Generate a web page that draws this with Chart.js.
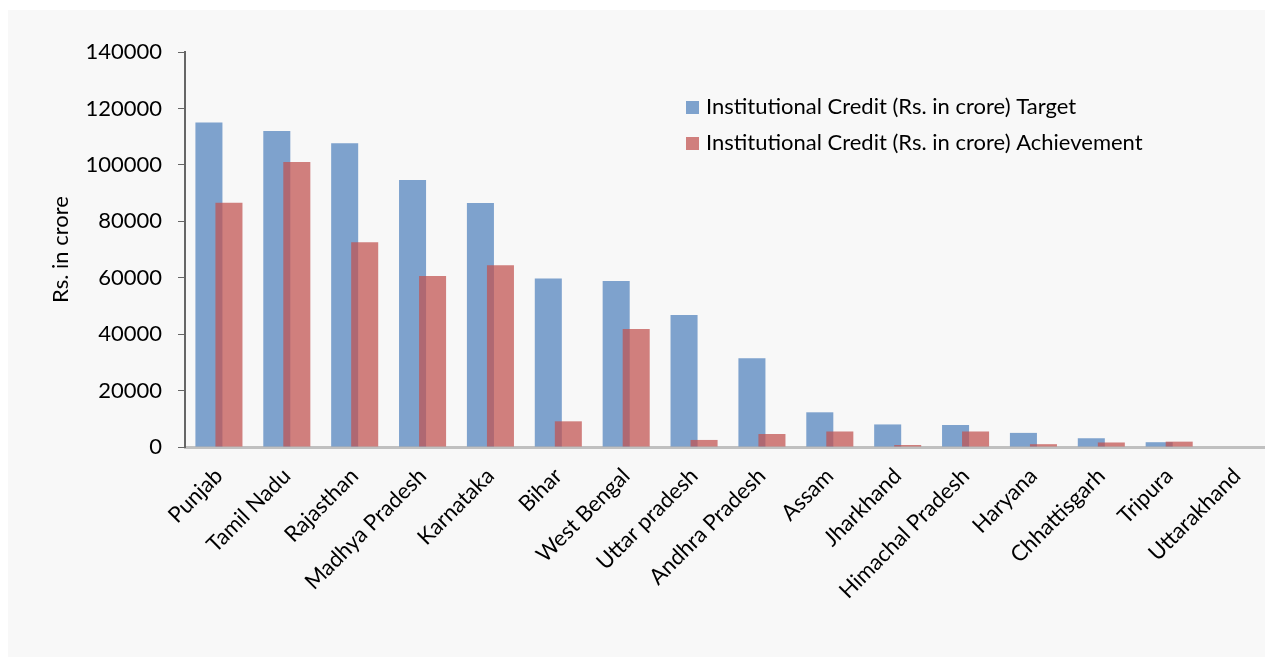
<!DOCTYPE html>
<html>
<head>
<meta charset="utf-8">
<script src="https://cdn.jsdelivr.net/npm/chart.js@4"></script>
<style>
  html,body{margin:0;padding:0;background:#fff;overflow:hidden;width:1265px;height:662px}
  #panel{position:absolute;left:8px;top:10px;width:1263px;height:647px;background:#f8f8f8}
  #chart{position:absolute;left:0;top:0}
</style>
</head>
<body>
<div id="panel"><canvas id="chart" width="1263" height="647"></canvas></div>
<script>
const states = ['Punjab','Tamil Nadu','Rajasthan','Madhya Pradesh','Karnataka','Bihar','West Bengal',
  'Uttar pradesh','Andhra Pradesh','Assam','Jharkhand','Himachal Pradesh','Haryana','Chhattisgarh',
  'Tripura','Uttarakhand'];
const target      = [115000,112000,107700,94600,86500,59700,58800,46800,31500,12300,8000,7800,5000,3100,1700,0];
const achievement = [86600,101000,72600,60600,64400,9100,41800,2500,4600,5500,700,5500,1000,1600,1900,0];
const yTicks = [0,20000,40000,60000,80000,100000,120000,140000];

const FONT = 'Lato, "Open Sans", sans-serif';

// draw datasets in index order so the achievement bars sit on top of the target bars
const drawInOrder = {
  id:'drawInOrder',
  beforeDatasetsDraw(chart){
    chart.data.datasets.forEach((d,i)=>chart.getDatasetMeta(i).controller.draw());
    return false;
  }
};

// legend inside the plot, top right
const innerLegend = {
  id:'innerLegend',
  afterDraw(chart){
    const ctx = chart.ctx;
    ctx.save();
    ctx.font = '22px ' + FONT;
    ctx.textBaseline = 'middle';
    chart.data.datasets.forEach((d,i)=>{
      const y = 97 + i*36;
      ctx.fillStyle = d.backgroundColor;
      ctx.fillRect(678, y-6, 13, 13);
      ctx.fillStyle = '#000';
      ctx.fillText(d.label, 698, y);
    });
    ctx.restore();
  }
};

new Chart(document.getElementById('chart'),{
  type:'bar',
  data:{
    labels:states,
    datasets:[
      {label:'Institutional Credit (Rs. in crore) Target', data:target,
       backgroundColor:'rgba(79,129,189,0.72)', borderWidth:0},
      {label:'Institutional Credit (Rs. in crore) Achievement', data:achievement,
       backgroundColor:'rgba(192,80,77,0.72)', borderWidth:0}
    ]
  },
  options:{
    responsive:false,
    animation:false,
    categoryPercentage:0.59,
    barPercentage:1.35,
    layout:{padding:{top:42,right:0,left:0,bottom:0}},
    plugins:{legend:{display:false},tooltip:{enabled:false}},
    scales:{
      x:{
        afterFit:s=>{s.height=210;},
        grid:{display:false},
        border:{color:'#c0c0c0',width:3},
        ticks:{autoSkip:false,minRotation:45,maxRotation:45,padding:8,color:'#000',
               font:{family:FONT,size:22}}
      },
      y:{
        min:0,max:140000,
        afterFit:s=>{s.width=177;},
        afterBuildTicks:s=>{s.ticks=yTicks.map(v=>({value:v}));},
        grid:{drawOnChartArea:false,drawTicks:true,tickLength:7,color:'#666',tickColor:'#666'},
        border:{color:'#666',width:2},
        ticks:{padding:16,color:'#000',font:{family:FONT,size:22},callback:v=>String(v)},
        title:{display:true,text:'Rs. in crore',color:'#000',
               font:{family:FONT,size:22},padding:{top:40,bottom:0}}
      }
    }
  },
  plugins:[drawInOrder,innerLegend]
});
</script>
</body>
</html>
